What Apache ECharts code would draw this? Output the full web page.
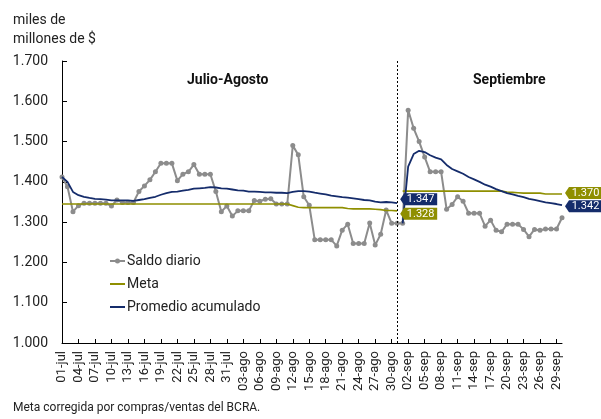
<!DOCTYPE html>
<html>
<head>
<meta charset="utf-8">
<script src="https://cdn.jsdelivr.net/npm/echarts@6/dist/echarts.min.js"></script>
<style>
  html, body { margin: 0; padding: 0; background: #fff; }
  #chart { width: 601px; height: 419px; }
</style>
</head>
<body>
<div id="chart"></div>
<script>
// daily categories 01-jul .. 30-sep
var months = [['jul', 31], ['ago', 31], ['sep', 30]];
var categories = [];
months.forEach(function (m) {
  for (var d = 1; d <= m[1]; d++) {
    categories.push((d < 10 ? '0' : '') + d + '-' + m[0]);
  }
});

// saldo diario, one value per calendar day
var saldoDiario = [
  1412, 1388, 1326, 1341, 1347, 1347, 1347, 1347, 1347, 1340,
  1355, 1349, 1349, 1349, 1376, 1390, 1405, 1425, 1446, 1446,
  1446, 1403, 1419, 1425, 1443, 1419, 1419, 1419, 1376, 1326,
  1340, 1315, 1328, 1328, 1328, 1354, 1352, 1357, 1358, 1345,
  1345, 1345, 1490, 1467, 1363, 1342, 1256, 1256, 1256, 1256,
  1241, 1280, 1295, 1247, 1247, 1247, 1298, 1243, 1270, 1330,
  1297, 1297,
  1297, 1578, 1533, 1500, 1462, 1425, 1425, 1425, 1332, 1344,
  1363, 1352, 1322, 1322, 1322, 1290, 1305, 1280, 1276, 1295,
  1295, 1295, 1282, 1264, 1282, 1280, 1283, 1283, 1283, 1311
];

// meta (jul-ago / sep)
var metaJulAgo = [
  1345, 1345, 1345, 1345, 1345, 1345, 1345, 1345, 1345, 1345,
  1345, 1345, 1345, 1345, 1345, 1345, 1345, 1345, 1345, 1345,
  1345, 1345, 1345, 1345, 1345, 1345, 1345, 1345, 1345, 1345,
  1345, 1345, 1345, 1345, 1345, 1345, 1345, 1345, 1345, 1345,
  1345, 1345, 1341, 1337, 1336, 1336, 1336, 1336, 1336, 1336,
  1336, 1336, 1334, 1333, 1333, 1333, 1333, 1332, 1331, 1329,
  1329, 1328
];
var metaSep = [
  1377, 1377, 1377, 1377, 1377, 1377, 1377, 1377, 1377, 1377,
  1377, 1377, 1377, 1377, 1377, 1377, 1377, 1377, 1377, 1375,
  1374, 1373, 1372, 1372, 1372, 1372, 1370, 1370, 1370, 1370
];

// promedio acumulado (jul-ago / sep)
var promedioJulAgo = [
  1412, 1400, 1375, 1367, 1363, 1360, 1358, 1357, 1356, 1354,
  1354, 1354, 1354, 1353, 1355, 1357, 1360, 1363, 1368, 1372,
  1375, 1376, 1378, 1380, 1383, 1384, 1385, 1387, 1386, 1384,
  1383, 1381, 1379, 1378, 1376, 1376, 1375, 1374, 1374, 1373,
  1373, 1372, 1375, 1377, 1377, 1376, 1373, 1371, 1369, 1366,
  1364, 1362, 1361, 1359, 1357, 1355, 1354, 1351, 1349, 1350,
  1349, 1347
];
var promedioSep = [
  1297, 1438, 1469, 1477, 1474, 1466, 1460, 1456, 1442, 1432,
  1426, 1420, 1412, 1406, 1400, 1393, 1388, 1382, 1377, 1372,
  1369, 1365, 1362, 1358, 1355, 1352, 1349, 1347, 1345, 1342
];

var GRAY = '#8c8c8c';
var OLIVE = '#8f8f00';
var NAVY = '#152c6b';
var FONT = 'Roboto, "Noto Sans", sans-serif';

function fmt(v) {
  var s = String(Math.round(v));
  return s.length > 3 ? s.slice(0, s.length - 3) + '.' + s.slice(-3) : s;
}

function padFront(arr) {
  var out = [];
  for (var i = 0; i < categories.length - arr.length; i++) out.push(null);
  return out.concat(arr);
}

// value tag with a left-pointing tip
var tagPath = 'path://M0,6L4,0L37,0L37,12L4,12Z';
function tag(arr, offset, color, atEnd) {
  var idx = atEnd ? categories.length - 1 : arr.length - 1;
  var v = arr[arr.length - 1];
  return {
    symbol: tagPath,
    symbolSize: [37, 12],
    symbolKeepAspect: false,
    symbolOffset: offset,
    itemStyle: { color: color },
    label: {
      show: true,
      position: 'inside',
      offset: [2, 0],
      color: '#fff',
      fontSize: 11,
      fontFamily: FONT,
      formatter: function () { return fmt(v); }
    },
    data: [{ coord: [categories[idx], v] }]
  };
}

// legend icons (bounding box kept 15x14)
var lineIcon = 'path://M0,0L0,0M0,6L15,6L15,8L0,8ZM15,14L15,14';
var dotLineIcon = 'path://M0,0L0,0M0,6L15,6L15,8L0,8ZM10,7A2.5,2.5,0,1,1,5,7A2.5,2.5,0,1,1,10,7ZM15,14L15,14';

var chart = echarts.init(document.getElementById('chart'));

var option = {
  animation: false,
  textStyle: { fontFamily: FONT },
  title: {
    text: 'miles de\nmillones de $',
    left: 8,
    top: 6,
    textStyle: { fontSize: 14, fontWeight: 'normal', color: '#222', lineHeight: 19, fontFamily: FONT }
  },
  grid: { left: 62, right: 39, top: 61, bottom: 76 },
  legend: {
    data: [
      { name: 'Saldo diario', icon: dotLineIcon },
      { name: 'Meta', icon: lineIcon },
      { name: 'Promedio acumulado', icon: lineIcon }
    ],
    orient: 'vertical',
    left: 110,
    top: 254,
    padding: 0,
    itemGap: 9,
    itemWidth: 15,
    itemHeight: 14,
    textStyle: { fontSize: 14, color: '#222', fontFamily: FONT, padding: [0, 0, 0, -3] }
  },
  xAxis: {
    type: 'category',
    data: categories,
    boundaryGap: false,
    axisLine: { lineStyle: { color: '#000', width: 1 } },
    axisTick: { inside: true, interval: 2, length: 4, lineStyle: { color: '#000' } },
    axisLabel: { interval: 2, rotate: 90, fontSize: 13, color: '#222', margin: 8, fontFamily: FONT },
    splitLine: { show: false }
  },
  yAxis: {
    type: 'value',
    min: 1000,
    max: 1700,
    interval: 100,
    axisLine: { show: true, lineStyle: { color: '#000', width: 1 } },
    axisTick: { show: true, inside: true, length: 5, lineStyle: { color: '#000' } },
    axisLabel: { fontSize: 14, color: '#222', margin: 14, fontFamily: FONT, formatter: fmt },
    splitLine: { show: false }
  },
  graphic: [
    { type: 'text', left: 187, top: 73, style: { text: 'Julio-Agosto', font: 'bold 14px ' + FONT, fill: '#111' } },
    { type: 'text', left: 473, top: 73, style: { text: 'Septiembre', font: 'bold 14px ' + FONT, fill: '#111' } },
    { type: 'text', left: 13, top: 402, style: { text: 'Meta corregida por compras/ventas del BCRA.', font: '12px ' + FONT, fill: '#222' } }
  ],
  series: [
    {
      name: 'Saldo diario',
      type: 'line',
      data: saldoDiario,
      symbol: 'circle',
      symbolSize: 5,
      showSymbol: true,
      showAllSymbol: true,
      lineStyle: { color: GRAY, width: 2 },
      itemStyle: { color: GRAY },
      z: 2,
      markLine: {
        silent: true,
        symbol: 'none',
        label: { show: false },
        lineStyle: { color: '#000', type: [2, 2], width: 1 },
        data: [{ xAxis: '31-ago' }]
      }
    },
    {
      name: 'Meta',
      type: 'line',
      data: metaJulAgo,
      symbol: 'none',
      lineStyle: { color: OLIVE, width: 1.6 },
      itemStyle: { color: OLIVE },
      z: 3,
      markPoint: tag(metaJulAgo, [21.5, 3], OLIVE, false)
    },
    {
      name: 'Meta',
      type: 'line',
      data: padFront(metaSep),
      symbol: 'none',
      lineStyle: { color: OLIVE, width: 1.6 },
      itemStyle: { color: OLIVE },
      z: 3,
      markPoint: tag(metaSep, [21.5, -1], OLIVE, true)
    },
    {
      name: 'Promedio acumulado',
      type: 'line',
      data: promedioJulAgo,
      symbol: 'none',
      lineStyle: { color: NAVY, width: 1.8 },
      itemStyle: { color: NAVY },
      z: 4,
      markPoint: tag(promedioJulAgo, [21.5, -4], NAVY, false)
    },
    {
      name: 'Promedio acumulado',
      type: 'line',
      data: padFront(promedioSep),
      symbol: 'none',
      lineStyle: { color: NAVY, width: 1.8 },
      itemStyle: { color: NAVY },
      z: 4,
      markPoint: tag(promedioSep, [21.5, 1], NAVY, true)
    }
  ]
};

chart.setOption(option);

window.addEventListener('resize', function () {
  chart.resize();
});
</script>
</body>
</html>
